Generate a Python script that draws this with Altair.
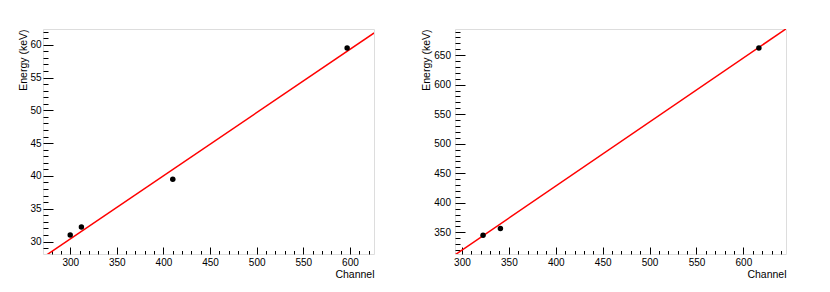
import altair as alt
import pandas as pd

# ---- data ----
# left panel
ch_a = [300, 312, 410, 597]
en_a = [31.0, 32.2, 39.5, 59.5]
fit_a_ch = [271, 626]
fit_a_en = [27.6, 61.8]
dom_a_x = [270.8, 625.8]
dom_a_y = [28.1, 62.4]
xmaj_a = [300, 350, 400, 450, 500, 550, 600]
xmin_a = [280, 290, 310, 320, 330, 340, 360, 370, 380, 390, 410, 420, 430, 440,
          460, 470, 480, 490, 510, 520, 530, 540, 560, 570, 580, 590, 610, 620]
ymaj_a = [30, 35, 40, 45, 50, 55, 60]
ymin_a = [29, 31, 32, 33, 34, 36, 37, 38, 39, 41, 42, 43, 44, 46, 47, 48, 49,
          51, 52, 53, 54, 56, 57, 58, 59, 61, 62]

# right panel
ch_b = [322.5, 341, 616.5]
en_b = [345.0, 356.5, 662.0]
fit_b_ch = [292.6, 645.4]
fit_b_en = [311.8, 694.5]
dom_b_x = [292.6, 645.4]
dom_b_y = [313.3, 694.3]
xmaj_b = [300, 350, 400, 450, 500, 550, 600]
xmin_b = [310, 320, 330, 340, 360, 370, 380, 390, 410, 420, 430, 440,
          460, 470, 480, 490, 510, 520, 530, 540, 560, 570, 580, 590, 610, 620,
          630, 640]
ymaj_b = [350, 400, 450, 500, 550, 600, 650]
ymin_b = [320, 330, 340, 360, 370, 380, 390, 410, 420, 430, 440, 460, 470, 480,
          490, 510, 520, 530, 540, 560, 570, 580, 590, 610, 620, 630, 640, 660,
          670, 680, 690]

X_TITLE = "Channel"
Y_TITLE = "Energy (keV)"
FONT = "Liberation Sans"
W = 331
H = 225


def panel(ch, en, fch, fen, domx, domy, xmaj, xmin, ymaj, ymin, ytx, ylpad):
    pts = pd.DataFrame({"ch": ch, "en": en})
    fit = pd.DataFrame({"ch": fch, "en": fen})
    sx = alt.Scale(domain=domx, nice=False, zero=False)
    sy = alt.Scale(domain=domy, nice=False, zero=False)

    ax_lbl = alt.Axis(values=xmaj, ticks=False, domain=False, grid=False,
                      orient="bottom", labelFontSize=10, labelPadding=3,
                      labelFont=FONT, labelColor="black",
                      title=X_TITLE, titleX=W, titleY=23, titleAlign="right",
                      titleAnchor="end", titleBaseline="alphabetic",
                      titleFont=FONT, titleFontSize=10.5, titleFontWeight="normal",
                      titleColor="black")
    ay_lbl = alt.Axis(values=ymaj, ticks=False, domain=False, grid=False,
                      orient="left", labelFontSize=10, labelPadding=ylpad,
                      labelFont=FONT, labelColor="black",
                      title=Y_TITLE, titleX=ytx, titleY=0, titleAlign="right",
                      titleAnchor="end", titleAngle=270, titleBaseline="alphabetic",
                      titleFont=FONT, titleFontSize=10.5, titleFontWeight="normal",
                      titleColor="black")
    ax_maj = alt.Axis(values=xmaj, ticks=True, labels=False, domain=False, grid=False,
                      orient="bottom", tickSize=7, offset=-7, tickColor="black",
                      title=None)
    ay_maj = alt.Axis(values=ymaj, ticks=True, labels=False, domain=False, grid=False,
                      orient="left", tickSize=10, offset=-10, tickColor="black",
                      title=None)
    ax_min = alt.Axis(values=xmin, ticks=True, labels=False, domain=False, grid=False,
                      orient="bottom", tickSize=3.5, offset=-3.5, tickColor="black",
                      title=None)
    ay_min = alt.Axis(values=ymin, ticks=True, labels=False, domain=False, grid=False,
                      orient="left", tickSize=5, offset=-5, tickColor="black",
                      title=None)

    line = alt.Chart(fit).mark_line(color="#ff0000", strokeWidth=1.5, clip=True).encode(
        x=alt.X("ch:Q", scale=sx, axis=ax_lbl),
        y=alt.Y("en:Q", scale=sy, axis=ay_lbl),
    )
    dots = alt.Chart(pts).mark_circle(color="black", size=30, opacity=1).encode(
        x=alt.X("ch:Q", scale=sx, axis=ax_maj),
        y=alt.Y("en:Q", scale=sy, axis=ay_maj),
    )
    ghost = alt.Chart(pts).mark_circle(opacity=0, size=1).encode(
        x=alt.X("ch:Q", scale=sx, axis=ax_min),
        y=alt.Y("en:Q", scale=sy, axis=ay_min),
    )
    return alt.layer(line, ghost, dots).resolve_axis(x="independent", y="independent").properties(
        width=W, height=H)


left = panel(ch_a, en_a, fit_a_ch, fit_a_en, dom_a_x, dom_a_y,
             xmaj_a, xmin_a, ymaj_a, ymin_a, -16.7, 2)
right = panel(ch_b, en_b, fit_b_ch, fit_b_en, dom_b_x, dom_b_y,
              xmaj_b, xmin_b, ymaj_b, ymin_b, -25.5, 4.5)

chart = alt.hconcat(left, right, spacing=46).properties(
    padding={"left": 9, "top": 20, "right": 5, "bottom": 5}
).configure_view(stroke="#333333", strokeWidth=1).configure(background="white")

chart.save("out.html", embed_options={"renderer": "svg", "actions": False})
